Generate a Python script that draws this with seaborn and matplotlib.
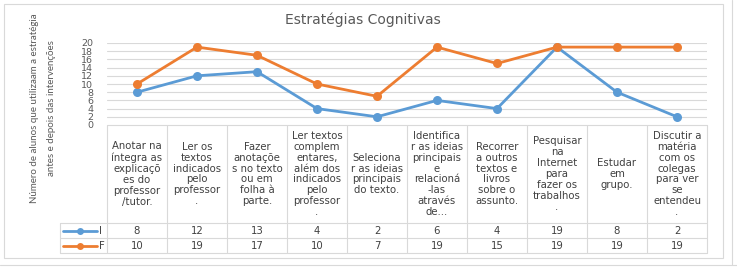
import matplotlib
matplotlib.use("Agg")
import matplotlib.pyplot as plt
import seaborn as sns
import pandas as pd
import numpy as np
from matplotlib.patches import Rectangle
from matplotlib.lines import Line2D

# ---------------- data ----------------
title = "Estratégias Cognitivas"
ylabel = "Número de alunos que utilizaam a estratégia\nantes e depois das intervenções"
categories = [
    "Anotar na\níntegra as\nexplicaçõ\nes do\nprofessor\n/tutor.",
    "Ler os\ntextos\nindicados\npelo\nprofessor\n.",
    "Fazer\nanotaçõe\ns no texto\nou em\nfolha à\nparte.",
    "Ler textos\ncomplem\nentares,\nalém dos\nindicados\npelo\nprofessor\n.",
    "Seleciona\nr as ideias\nprincipais\ndo texto.",
    "Identifica\nr as ideias\nprincipais\ne\nrelacioná\n-las\natravés\nde...",
    "Recorrer\na outros\ntextos e\nlivros\nsobre o\nassunto.",
    "Pesquisar\nna\nInternet\npara\nfazer os\ntrabalhos\n.",
    "Estudar\nem\ngrupo.",
    "Discutir a\nmatéria\ncom os\ncolegas\npara ver\nse\nentendeu\n.",
]
series_names = ["I", "F"]
values_I = [8, 12, 13, 4, 2, 6, 4, 19, 8, 2]
values_F = [10, 19, 17, 10, 7, 19, 15, 19, 19, 19]
yticks = [0, 2, 4, 6, 8, 10, 12, 14, 16, 18, 20]

colors = {"I": "#5B9BD5", "F": "#ED7D31"}
grid_c = "#D9D9D9"
text_c = "#595959"

sns.set_theme(style="white")
plt.rcParams["font.family"] = ["DejaVu Sans"]

W, H = 737, 271
fig = plt.figure(figsize=(W / 100, H / 100), dpi=100)

def fx(px):
    return px / W

def fy(py):
    return 1 - py / H

# ---------------- line chart ----------------
n = len(categories)
df = pd.DataFrame({
    "pos": list(range(n)) * 2,
    "valor": values_I + values_F,
    "serie": ["I"] * n + ["F"] * n,
})

ax = fig.add_axes([fx(107), fy(125), fx(707) - fx(107), fy(43) - fy(125)])
sns.lineplot(data=df, x="pos", y="valor", hue="serie", hue_order=series_names,
             palette=colors, marker="o", markersize=6.5, markeredgewidth=0,
             linewidth=2.0, legend=False, ax=ax, zorder=3)
ax.set_xlim(-0.5, n - 0.5)
ax.set_ylim(0, 20)
ax.set_yticks(yticks)
ax.set_yticklabels([str(t) for t in yticks], fontsize=6.8, color=text_c)
ax.tick_params(axis="y", length=0, pad=10)
ax.set_xticks([])
ax.set_xlabel("")
ax.set_ylabel("")
for s in ax.spines.values():
    s.set_visible(False)
for t in yticks[1:]:
    ax.axhline(t, color=grid_c, lw=0.8, zorder=1)
ax.set_facecolor("none")

# ---------------- data table ----------------
tab = fig.add_axes([fx(60), fy(253), fx(707) - fx(60), fy(125) - fy(253)])
leg_w = 47 / 60.0
xl = -0.5 - leg_w
tab.set_xlim(xl, n - 0.5)
tab.set_ylim(128, 0)
tab.axis("off")
lk = dict(color=grid_c, lw=0.8, clip_on=False)
tab.plot([-0.5, n - 0.5], [0, 0], **lk)
for yy in (98, 113, 128):
    tab.plot([xl, n - 0.5], [yy, yy], **lk)
for k in range(n + 1):
    tab.plot([k - 0.5, k - 0.5], [0, 128], **lk)
tab.plot([xl, xl], [98, 128], **lk)

tcol = "#404040"
for k, lab in enumerate(categories):
    tab.text(k, 49, lab, ha="center", va="center", multialignment="center",
             fontsize=7.3, color=tcol, linespacing=1.12)
for k in range(n):
    tab.text(k, 105.8, str(values_I[k]), ha="center", va="center", fontsize=7.3, color=tcol)
    tab.text(k, 120.8, str(values_F[k]), ha="center", va="center", fontsize=7.3, color=tcol)

for name, yy in zip(series_names, (105.5, 120.5)):
    c = colors[name]
    tab.plot([xl + 0.05, -0.67], [yy, yy], color=c, lw=2, clip_on=False)
    tab.plot([(xl + 0.05 - 0.67) / 2], [yy], "o", color=c, ms=5, mew=0, clip_on=False)
    tab.text(-0.63, yy + 0.3, name, ha="left", va="center", fontsize=7.3, color=tcol)

# ---------------- texts ----------------
fig.text(fx(363), fy(20), title, ha="center", va="center", fontsize=10, color=text_c)
fig.text(fx(43), fy(108), ylabel, ha="center", va="center", rotation=90,
         fontsize=7, color=text_c, linespacing=2.1, multialignment="center",
         family=["Lato", "DejaVu Sans"])

# ---------------- frames ----------------
fig.patches.append(Rectangle((fx(4), fy(258)), fx(723) - fx(4), fy(4) - fy(258),
                             transform=fig.transFigure, fill=False,
                             edgecolor=grid_c, lw=0.8))
fig.lines.append(Line2D([fx(0), fx(737)], [fy(265), fy(265)],
                        transform=fig.transFigure, color=grid_c, lw=0.8))
fig.lines.append(Line2D([fx(732), fx(732)], [fy(0), fy(265)],
                        transform=fig.transFigure, color=grid_c, lw=0.8))

fig.savefig("out.png", dpi=100, facecolor="white")
